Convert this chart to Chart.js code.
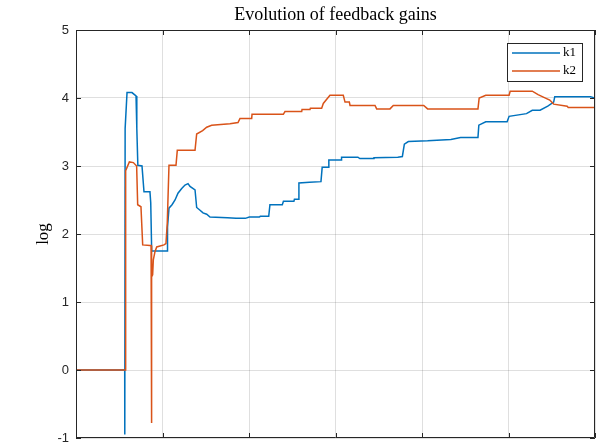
<!DOCTYPE html>
<html>
<head>
<meta charset="utf-8">
<script src="https://cdn.jsdelivr.net/npm/chart.js@4/dist/chart.umd.min.js"></script>
<style>
  html, body { margin: 0; padding: 0; background: #fff; }
  #wrap { width: 605px; height: 444px; }
</style>
</head>
<body>
<div id="wrap"><canvas id="c" width="605" height="444"></canvas></div>
<script>
// Feedback gain k1 (sample position, log value)
const k1X = [0, 56.3, 56.4, 56.8, 59, 64.7, 69.4, 70.3, 71.5, 76.3, 78.6, 85.5, 86.4, 87.5, 105.3, 105.8, 107.5, 111, 114.5, 117.9,
  122.2, 126, 129.5, 131.8, 137.6, 139.5, 143.4, 146.8, 151.1, 154.9, 175, 185, 195.8, 200.4, 212, 213, 222.8, 224.2, 238.5, 239.8,
  251.9, 252.5, 257.2, 257.7, 270, 283.2, 284.6, 291.8, 292.3, 306.5, 307, 325.9, 328.1, 343.8, 344.5, 372, 377.3, 379.6, 384.2, 406.5,
  433.4, 444.6, 464.7, 465.7, 473.7, 498.4, 500.7, 520.8, 527.5, 536.5, 545.4, 552.2, 553.5, 594.8, 599.3];
const k1Y = [0, 0, -0.95, 3.55, 4.08, 4.08, 4.03, 3.55, 3.01, 3.0, 2.62, 2.62, 2.46, 1.75, 1.75, 2.1, 2.38, 2.43, 2.5, 2.6,
  2.67, 2.72, 2.74, 2.7, 2.65, 2.39, 2.35, 2.31, 2.29, 2.25, 2.24, 2.23, 2.23, 2.25, 2.25, 2.26, 2.26, 2.43, 2.43, 2.48,
  2.48, 2.51, 2.51, 2.75, 2.76, 2.77, 2.98, 2.98, 3.09, 3.09, 3.13, 3.13, 3.11, 3.11, 3.12, 3.13, 3.14, 3.32, 3.36, 3.37,
  3.39, 3.42, 3.42, 3.6, 3.65, 3.65, 3.73, 3.77, 3.82, 3.82, 3.88, 3.94, 4.02, 4.02, 4.0];

// Feedback gain k2 (sample position, log value)
const k2X = [0, 57.2, 57.4, 61.7, 66.3, 70.1, 71.3, 75.1, 77.1, 85.5, 86.8, 87.2, 87.6, 88.6, 89.4, 91.3, 93.3, 101.7, 104, 105.5,
  107.5, 115.6, 117.1, 137.6, 139.5, 146.4, 151.1, 156.8, 178, 187.3, 189.6, 203.1, 203.5, 239.7, 241.6, 260.9, 261.3, 270.5, 271, 284,
  285.9, 293.6, 309, 311, 316, 316.8, 345.7, 347.6, 363, 366.8, 402, 406.5, 464.7, 466.1, 473.7, 500.7, 501.9, 527.5, 534.2, 540.9,
  547.7, 552.2, 567.8, 569, 599.3];
const k2Y = [0, 0, 2.93, 3.06, 3.05, 3.0, 2.43, 2.40, 1.84, 1.83, 1.83, -0.78, 1.37, 1.40, 1.62, 1.74, 1.81, 1.84, 1.86, 2.16,
  3.01, 3.01, 3.23, 3.23, 3.47, 3.52, 3.57, 3.6, 3.62, 3.64, 3.70, 3.70, 3.76, 3.76, 3.80, 3.80, 3.83, 3.83, 3.85, 3.85,
  3.92, 4.04, 4.04, 3.94, 3.94, 3.89, 3.89, 3.84, 3.84, 3.89, 3.89, 3.84, 3.84, 4.0, 4.04, 4.04, 4.1, 4.1, 4.05, 4.01,
  3.97, 3.91, 3.88, 3.86, 3.86];

const seriesNames = ['k1', 'k2'];
const yTicks = [-1, 0, 1, 2, 3, 4, 5];
const xTicks = [0, 100, 200, 300, 400, 500, 600];

const BLUE = '#0072BD';
const ORANGE = '#D95319';
const AXIS = '#262626';

const toPoints = (xs, ys) => xs.map((x, i) => ({ x, y: ys[i] }));

// Axes frame with inward tick marks on all four sides, plus title and legend box
const framePlugin = {
  id: 'frame',
  afterDraw(chart) {
    const { ctx, chartArea: a, scales } = chart;
    ctx.save();
    ctx.strokeStyle = AXIS;
    ctx.lineWidth = 1;
    ctx.beginPath();
    ctx.rect(a.left + 0.5, a.top + 0.5, a.right - a.left - 1, a.bottom - a.top - 1);
    ctx.stroke();
    const tl = 5;
    ctx.beginPath();
    yTicks.forEach(v => {
      const y = Math.round(scales.y.getPixelForValue(v)) + 0.5;
      ctx.moveTo(a.left, y); ctx.lineTo(a.left + tl, y);
      ctx.moveTo(a.right, y); ctx.lineTo(a.right - tl, y);
    });
    xTicks.forEach(v => {
      const x = Math.round(scales.x.getPixelForValue(v)) + 0.5;
      ctx.moveTo(x, a.bottom); ctx.lineTo(x, a.bottom - tl);
      ctx.moveTo(x, a.top); ctx.lineTo(x, a.top + tl);
    });
    ctx.stroke();

    // title
    ctx.fillStyle = '#000';
    ctx.font = '18px "Liberation Serif", serif';
    ctx.textAlign = 'center';
    ctx.textBaseline = 'alphabetic';
    ctx.fillText('Evolution of feedback gains', (a.left + a.right) / 2, 20);

    // legend
    const lx = 507, ly = 43, lw = 75, lh = 38;
    ctx.fillStyle = '#fff';
    ctx.fillRect(lx, ly, lw, lh);
    ctx.strokeStyle = AXIS;
    ctx.strokeRect(lx + 0.5, ly + 0.5, lw, lh);
    const colors = [BLUE, ORANGE];
    seriesNames.forEach((name, i) => {
      const y = ly + 10 + i * 18;
      ctx.strokeStyle = colors[i];
      ctx.lineWidth = 1.5;
      ctx.beginPath();
      ctx.moveTo(512, y); ctx.lineTo(560, y);
      ctx.stroke();
      ctx.fillStyle = '#000';
      ctx.font = '13px "Liberation Serif", serif';
      ctx.textAlign = 'left';
      ctx.textBaseline = 'middle';
      ctx.fillText(name, 563, y);
    });
    ctx.restore();
  }
};

new Chart(document.getElementById('c'), {
  type: 'line',
  data: {
    datasets: [
      { label: seriesNames[0], data: toPoints(k1X, k1Y), borderColor: BLUE, borderWidth: 1.5, pointRadius: 0, tension: 0, order: 1 },
      { label: seriesNames[1], data: toPoints(k2X, k2Y), borderColor: ORANGE, borderWidth: 1.5, pointRadius: 0, tension: 0, order: 0 }
    ]
  },
  options: {
    responsive: false,
    animation: false,
    events: [],
    layout: { padding: { left: 33, right: 10, top: 30, bottom: 6 } },
    plugins: { legend: { display: false }, title: { display: false }, tooltip: { enabled: false } },
    scales: {
      x: {
        type: 'linear', min: 0, max: 600,
        afterBuildTicks: s => { s.ticks = xTicks.map(v => ({ value: v })); },
        ticks: { display: false },
        grid: { color: 'rgba(38,38,38,0.15)', drawTicks: false },
        border: { display: false },
        afterFit: s => { s.height = 0; s.paddingLeft = 0; s.paddingRight = 0; }
      },
      y: {
        type: 'linear', min: -1, max: 5,
        afterBuildTicks: s => { s.ticks = yTicks.map(v => ({ value: v })); },
        ticks: { color: AXIS, padding: 7, font: { family: '"Liberation Sans", Arial, sans-serif', size: 13 } },
        grid: { color: 'rgba(38,38,38,0.15)', drawTicks: false },
        border: { display: false },
        title: { display: true, text: 'log', color: '#000', padding: 0, font: { family: '"Liberation Serif", serif', size: 17 } },
        afterFit: s => { s.width = 43; s.paddingTop = 0; s.paddingBottom = 0; }
      }
    }
  },
  plugins: [framePlugin]
});
</script>
</body>
</html>
